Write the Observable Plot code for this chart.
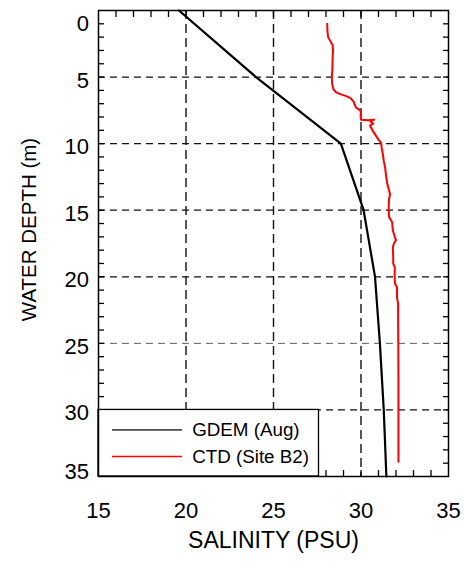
<!DOCTYPE html>
<html><head><meta charset="utf-8">
<script src="https://cdn.jsdelivr.net/npm/d3@7"></script>
<script src="https://cdn.jsdelivr.net/npm/@observablehq/plot@0.6"></script>
<style>body{margin:0;background:#fff}</style>
</head><body><div id="chart"></div>
<script>
// GDEM climatology (August)
const gdemDepth = [0, 5, 10, 15, 20, 25, 30, 35];
const gdemSalinity = [19.6, 24.0, 28.85, 30.15, 30.8, 31.08, 31.3, 31.45];
// CTD cast, Site B2
const ctdDepth = [1.0, 1.5, 2.0, 2.3, 2.6, 3.0, 3.5, 4.0, 4.5, 5.0, 5.5, 5.9, 6.15, 6.3, 6.45, 6.6, 6.85, 7.1, 7.3, 7.45, 7.6, 7.9, 8.2, 8.25, 8.2, 8.35, 8.5, 8.65, 8.9, 9.1, 9.4, 9.7, 9.95, 10.3, 10.8, 11.3, 11.8, 12.3, 13.0, 13.5, 13.8, 14.2, 14.8, 15.5, 15.9, 16.3, 16.6, 17.0, 17.25, 17.5, 17.8, 18.5, 19.0, 19.3, 20.0, 20.5, 20.8, 21.6, 22.0, 23.0, 25.0, 28.0, 31.0, 33.9];
const ctdSalinity = [28.07, 28.08, 28.12, 28.25, 28.38, 28.40, 28.38, 28.37, 28.36, 28.33, 28.35, 28.42, 28.58, 28.85, 29.2, 29.42, 29.58, 29.65, 29.72, 29.9, 30.0, 29.98, 30.0, 30.4, 30.75, 30.55, 30.7, 30.52, 30.62, 30.7, 30.85, 31.0, 31.15, 31.18, 31.25, 31.3, 31.38, 31.42, 31.5, 31.6, 31.66, 31.6, 31.58, 31.6, 31.78, 31.8, 31.84, 31.93, 32.0, 31.88, 31.82, 31.84, 31.84, 31.93, 31.92, 31.94, 32.06, 32.06, 32.12, 32.12, 32.13, 32.14, 32.14, 32.14];
const xTickValues = [15, 20, 25, 30, 35];
const yTickValues = [0, 5, 10, 15, 20, 25, 30, 35];
const xGridValues = [20, 25, 30];
const yGridValues = [5, 10, 15, 20, 30];
const yGridThin = [25];
const seriesNames = ["GDEM (Aug)", "CTD (Site B2)"];
const seriesColors = ["#000000", "#ff0000"];
const xLabel = "SALINITY (PSU)";
const yLabel = "WATER DEPTH (m)";

const gdem = gdemDepth.map((d, i) => ({depth: d, salinity: gdemSalinity[i]}));
const ctd = ctdDepth.map((d, i) => ({depth: d, salinity: ctdSalinity[i]}));
const legendItems = seriesNames.map((n, i) => ({name: n, color: seriesColors[i], depth: 31.5 + 2 * i}));
const xMinor = d3.range(16, 35, 1);
const yMinor = d3.range(1, 35, 1);
const minorOpts = {tickSize: 6, tickFormat: () => "", label: null, stroke: "black", strokeWidth: 1.3};

const chart = Plot.plot({
  width: 464,
  height: 561,
  marginLeft: 98,
  marginRight: 16,
  marginTop: 10,
  marginBottom: 85,
  style: {fontFamily: "'Liberation Sans', Arial, Helvetica, sans-serif", background: "white", color: "black"},
  x: {domain: [15, 35], axis: null},
  y: {domain: [0, 35], reverse: true, axis: null},
  marks: [
    Plot.ruleX(xGridValues, {x: d => d, stroke: "#111", strokeWidth: 1.4, strokeDasharray: "9,5"}),
    Plot.ruleY(yGridValues, {y: d => d, stroke: "#111", strokeWidth: 1.3, strokeDasharray: "7,5"}),
    Plot.ruleY(yGridThin, {y: d => d, stroke: "#333", strokeWidth: 0.8, strokeDasharray: "7,5"}),
    Plot.line(gdem, {x: "salinity", y: "depth", stroke: seriesColors[0], strokeWidth: 2.2}),
    Plot.line(ctd, {x: "salinity", y: "depth", stroke: seriesColors[1], strokeWidth: 2}),
    Plot.axisX(xMinor, {anchor: "bottom", dy: -6, ...minorOpts}),
    Plot.axisX(xMinor, {anchor: "top", dy: 6, ...minorOpts}),
    Plot.axisY(yMinor, {anchor: "left", dx: 6, ...minorOpts}),
    Plot.axisY(yMinor, {anchor: "right", dx: -6, ...minorOpts}),
    Plot.rect([0], {x1: 15, x2: 27.6, y1: 30, y2: 35, fill: "white", stroke: "black", strokeWidth: 1.3}),
    Plot.ruleY([legendItems[0]], {y: "depth", x1: 15.8, x2: 19.8, stroke: seriesColors[0], strokeWidth: 1.6, strokeOpacity: 0.7}),
    Plot.ruleY([legendItems[1]], {y: "depth", x1: 15.8, x2: 19.8, stroke: seriesColors[1], strokeWidth: 1.6}),
    Plot.text(legendItems, {x: 20.35, y: "depth", text: "name", textAnchor: "start", fontSize: 18.8, fill: "black"}),
    Plot.frame({stroke: "black", strokeWidth: 1.5}),
    Plot.text(xTickValues, {x: d => d, text: d => String(d), frameAnchor: "bottom", lineAnchor: "middle", dy: 34, fontSize: 22, fill: "black"}),
    Plot.text(yTickValues.filter(v => v > 0 && v < 35), {y: d => d, text: d => String(d), frameAnchor: "left", textAnchor: "end", lineAnchor: "middle", dx: -9.5, dy: 3.5, fontSize: 22, fill: "black"}),
    Plot.text(yTickValues.filter(v => v === 0), {y: d => d, text: d => String(d), frameAnchor: "left", textAnchor: "end", lineAnchor: "middle", dx: -9.5, dy: 13, fontSize: 22, fill: "black"}),
    Plot.text(yTickValues.filter(v => v === 35), {y: d => d, text: d => String(d), frameAnchor: "left", textAnchor: "end", lineAnchor: "middle", dx: -9.5, dy: -5, fontSize: 22, fill: "black"}),
    Plot.text([xLabel], {text: d => d, frameAnchor: "bottom", textAnchor: "middle", lineAnchor: "middle", dy: 64, fontSize: 23, fill: "black"}),
    Plot.text([yLabel], {text: d => d, frameAnchor: "left", textAnchor: "middle", lineAnchor: "middle", rotate: -90, dx: -69, dy: -14, fontSize: 20.5, fill: "black"})
  ]
});
document.getElementById("chart").appendChild(chart);
</script>
</body></html>
